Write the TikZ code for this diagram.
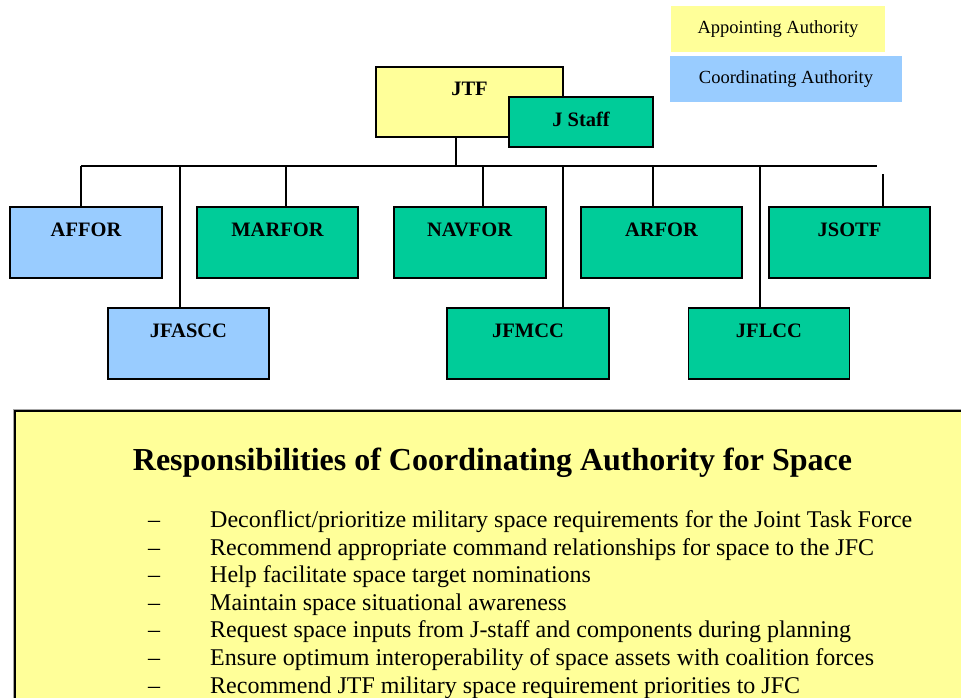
\documentclass[tikz,border=0pt]{standalone}
\usepackage{fontspec}
\setmainfont{Liberation Serif}
\definecolor{appyellow}{HTML}{FFFF99}
\definecolor{coordblue}{HTML}{99CCFF}
\definecolor{staffgreen}{HTML}{00CC99}
\begin{document}
\begin{tikzpicture}[x=1pt,y=-1pt,
  orgbox/.style={draw=black, line width=1.6pt, inner sep=0pt, minimum height=71pt, label distance=0pt},
  boxlabel/.style={anchor=center, yshift=-24pt, font=\bfseries\fontsize{20.5}{24}\selectfont},
  legendbox/.style={inner sep=0pt, minimum height=45.5pt, font=\fontsize{18.5}{22}\selectfont},
  link/.style={draw=black, line width=1.5pt},
  bullettext/.style={anchor=base west, inner sep=0pt, font=\fontsize{24}{28}\selectfont}]
\useasboundingbox (0,0) rectangle (961,698);
\clip (0,0) rectangle (961,698);
% legend
\node[legendbox, fill=appyellow, minimum width=214pt] (legA) at (778,29) {Appointing Authority};
\node[legendbox, fill=coordblue, minimum width=232pt] (legC) at (786,79) {Coordinating Authority};
% top
\node[orgbox, fill=appyellow, minimum width=187pt, minimum height=70pt,
  label={[boxlabel,yshift=1pt]north:JTF}] (jtf) at (469.5,102) {};
\node[orgbox, fill=staffgreen, minimum width=144pt, minimum height=50pt,
  label={[boxlabel,yshift=1pt]north:J Staff}] (jstaff) at (581,122) {};
% first row
\node[orgbox, fill=coordblue, minimum width=152pt, label={[boxlabel]north:AFFOR}] (affor) at (86,242.5) {};
\node[orgbox, fill=staffgreen, minimum width=161pt, label={[boxlabel]north:MARFOR}] (marfor) at (277.5,242.5) {};
\node[orgbox, fill=staffgreen, minimum width=152pt, label={[boxlabel]north:NAVFOR}] (navfor) at (469.7,242.5) {};
\node[orgbox, fill=staffgreen, minimum width=161pt, label={[boxlabel]north:ARFOR}] (arfor) at (661.5,242.5) {};
\node[orgbox, fill=staffgreen, minimum width=161pt, label={[boxlabel]north:JSOTF}] (jsotf) at (849.5,242.5) {};
% second row
\node[orgbox, fill=coordblue, minimum width=161pt, label={[boxlabel]north:JFASCC}] (jfascc) at (188.5,343.5) {};
\node[orgbox, fill=staffgreen, minimum width=162pt, label={[boxlabel]north:JFMCC}] (jfmcc) at (528,343.5) {};
\node[orgbox, fill=staffgreen, minimum width=161pt, label={[boxlabel]north:JFLCC}] (jflcc) at (769,343.5) {};
% connectors
\coordinate (busJ) at (456,166);
\coordinate (busStart) at (81,166);
\coordinate (busEnd) at (877,166);
\coordinate (bAffor) at (81,166);
\coordinate (bJfascc) at (180,166);
\coordinate (bMarfor) at (286,166);
\coordinate (bNavfor) at (483,166);
\coordinate (bJfmcc) at (563,166);
\coordinate (bArfor) at (653,166);
\coordinate (bJflcc) at (760,166);
\coordinate (bJsotf) at (883,174);
\path[link] (busJ |- jtf.south) -- (busJ);
\path[link] (busStart) -- (busEnd);
\path[link] (bAffor) -- (bAffor |- affor.north);
\path[link] (bJfascc) -- (bJfascc |- jfascc.north);
\path[link] (bMarfor) -- (bMarfor |- marfor.north);
\path[link] (bNavfor) -- (bNavfor |- navfor.north);
\path[link] (bJfmcc) -- (bJfmcc |- jfmcc.north);
\path[link] (bArfor) -- (bArfor |- arfor.north);
\path[link] (bJflcc) -- (bJflcc |- jflcc.north);
\path[link] (bJsotf) -- (bJsotf |- jsotf.north);
% responsibilities panel
\draw[gray!70, line width=3.5pt, fill=appyellow] (14.5,410.5) rectangle (990,720);
\draw[black, line width=2.2pt] (15,411) rectangle (990,720);
\node[anchor=base, inner sep=0pt, font=\bfseries\fontsize{32}{36}\selectfont] (title) at (492.5,470) {Responsibilities of Coordinating Authority for Space};
\foreach \i/\t in {1/{Deconflict/prioritize military space requirements for the Joint Task Force},
  2/{Recommend appropriate command relationships for space to the JFC},
  3/{Help facilitate space target nominations},
  4/{Maintain space situational awareness},
  5/{Request space inputs from J-staff and components during planning},
  6/{Ensure optimum interoperability of space assets with coalition forces},
  7/{Recommend JTF military space requirement priorities to JFC}} {
  \node[bullettext] (dash\i) at (148,{527.7+27.55*(\i-1)}) {–};
  \node[bullettext] (item\i) at (210,{527.7+27.55*(\i-1)}) {\t};
}
\end{tikzpicture}
\end{document}
